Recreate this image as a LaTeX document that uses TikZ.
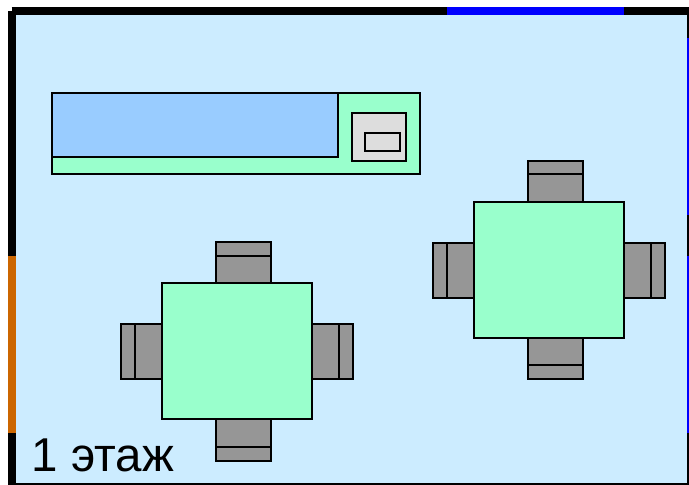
\documentclass[tikz,border=0pt]{standalone}
\usepackage{fontspec}
\setmainfont{Liberation Sans}
\definecolor{roomblue}{HTML}{CCECFF}
\definecolor{tablegreen}{HTML}{99FFCC}
\definecolor{sinkblue}{HTML}{99CCFF}
\definecolor{stovegray}{HTML}{DDDDDD}
\definecolor{chairgray}{HTML}{969696}
\definecolor{dooryellow}{HTML}{CC6600}
\tikzset{
  wall/.style={line width=8pt},
  thinwall/.style={line width=1.2pt},
  furniture/.style={draw=black,line width=1.8pt},
}
\begin{document}
\begin{tikzpicture}[x=1pt,y=-1pt]
\useasboundingbox (0,0) rectangle (689,485);
\fill[roomblue] (11,11) rectangle (688,484);
\draw[thinwall] (11,484) -- (688,484) -- (688,11);
\draw[wall] (11.5,11) -- (689,11);
\draw[wall] (11.5,11) -- (11.5,484.5);
\draw[wall,blue] (447,11) -- (624,11);
\draw[wall,dooryellow] (11.5,256) -- (11.5,433);
\draw[thinwall,blue] (688,38) -- (688,215) (688,256) -- (688,433);
% counter
\draw[furniture,fill=tablegreen] (52,93) rectangle (420,174);
\draw[furniture,fill=sinkblue] (52,93) rectangle (338,157);
\draw[furniture,fill=stovegray] (352,113) rectangle (406,161);
\draw[furniture,fill=stovegray] (365,133) rectangle (400,151);
% tables with chairs
\foreach \tx/\ty in {473.7/201.7,161.7/283.2}{
\begin{scope}[shift={(\tx,\ty)}]
\draw[furniture,fill=chairgray] (54,-41) rectangle (109,0);
\draw[furniture] (54,-27.5) -- (109,-27.5);
\draw[furniture,fill=chairgray] (54,136) rectangle (109,177.5);
\draw[furniture] (54,163.5) -- (109,163.5);
\draw[furniture,fill=chairgray] (-41,41) rectangle (0,96);
\draw[furniture] (-27,41) -- (-27,96);
\draw[furniture,fill=chairgray] (150,41) rectangle (191.5,96);
\draw[furniture] (177,41) -- (177,96);
\draw[furniture,fill=tablegreen] (0,0) rectangle (150,136);
\end{scope}
}
\node[anchor=base west,inner sep=0pt,font=\fontsize{47.5}{50}\selectfont] (floorlabel) at (31.5,471.7) {1 этаж};
\end{tikzpicture}
\end{document}
